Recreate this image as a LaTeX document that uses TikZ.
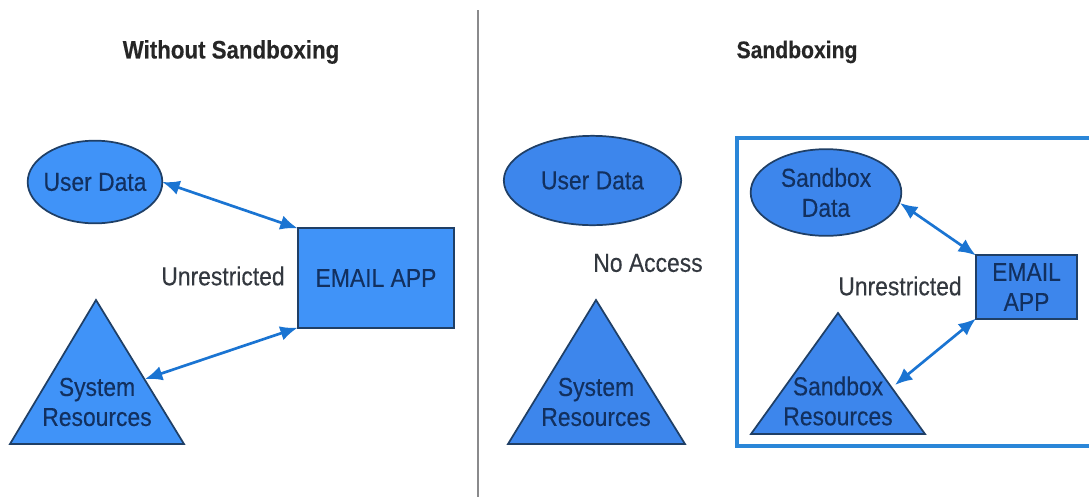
\documentclass[tikz,border=0pt]{standalone}
\usepackage{fontspec}
\setmainfont[FakeStretch=0.88,FakeBold=0.25]{Liberation Sans}
\usetikzlibrary{shapes.geometric,arrows.meta}
\definecolor{fillA}{HTML}{4093F8}
\definecolor{fillB}{HTML}{3D86EC}
\definecolor{edgeC}{HTML}{1F3F66}
\definecolor{inkC}{HTML}{12305F}
\definecolor{greyC}{HTML}{33383F}
\definecolor{linkC}{HTML}{1A74D2}
\definecolor{frameC}{HTML}{2A86D8}
\definecolor{ruleC}{HTML}{8A8A8C}
\tikzset{
  x=0.75pt,y=-0.75pt,
  txt/.style={inner sep=0pt,align=center,font=\fontsize{19.5}{22.5}\selectfont},
  inside/.style={txt,text=inkC},
  plain/.style={txt,text=greyC},
  heading/.style={inner sep=0pt,text=black!85,font=\fontsize{19}{21}\selectfont\bfseries},
  oval/.style={ellipse,draw=edgeC,line width=1.3pt,inner sep=-10pt,outer sep=0pt,text=inkC,align=center,font=\fontsize{19.5}{22.5}\selectfont},
  appbox/.style={rectangle,draw=edgeC,line width=1.3pt,inner sep=0pt,outer sep=0pt,text=inkC,align=center,font=\fontsize{19.5}{22.5}\selectfont},
  tri/.style={draw=edgeC,line width=1.3pt,line join=miter},
  link/.style={draw=linkC,line width=2pt,{Latex[length=13pt,width=11pt]}-{Latex[length=13pt,width=11pt]}}
}
\begin{document}
\begin{tikzpicture}
\useasboundingbox (0,0) rectangle (1089,497);
\fill[white] (0,0) rectangle (1089,497);
\clip (0,0) rectangle (1089,497);
% divider
\coordinate (ruleTop) at (478,10);
\coordinate (ruleEnd) at (478,497);
\draw[ruleC,line width=1.5pt] (ruleTop) -- (ruleEnd);
% titles
\node[heading] (t1) at (231,52) {Without Sandboxing};
\node[heading,font=\fontsize{18}{21}\selectfont\bfseries] (t2) at (797,52) {Sandboxing};
% left side
\node[oval,fill=fillA,minimum width=101pt,minimum height=62pt] (ud1) at (95,182) {User Data};
\node[appbox,fill=fillA,minimum width=117.5pt,minimum height=74.5pt] (app1) at (376,278) {EMAIL APP};
\draw[tri,fill=fillA] (96,300) -- (184,444) -- (10,444) -- cycle;
\coordinate (sr1) at (145,379);
\node[inside] (srt1) at (97,402) {System\\Resources};
\node[plain] (u1) at (223,276) {Unrestricted};
\draw[link] (ud1.east) -- (app1.north west);
\draw[link] (sr1) -- (app1.south west);
% middle
\node[oval,fill=fillB,minimum width=133pt,minimum height=67pt] (ud2) at (592.5,180.5) {User Data};
\draw[tri,fill=fillB] (596,300) -- (685,444) -- (508,444) -- cycle;
\node[inside] (srt2) at (596,402) {System\\Resources};
\node[plain] (na) at (648,263) {No Access};
% sandbox frame
\coordinate (fa) at (737,138);
\coordinate (fb) at (1100,446);
\draw[frameC,line width=2.6pt] (fa) rectangle (fb);
\node[oval,fill=fillB,minimum width=113pt,minimum height=65pt] (sd) at (826,192.5) {\raisebox{-1pt}{Sandbox}\\\raisebox{-1pt}{Data}};
\node[appbox,fill=fillB,minimum width=76pt,minimum height=47.5pt] (app2) at (1026.5,287) {EMAIL\\APP};
\draw[tri,fill=fillB] (838,313) -- (925,434) -- (751,434) -- cycle;
\coordinate (sr2) at (895,385);
\node[inside] (srt2b) at (838,401) {Sandbox\\Resources};
\node[plain] (u2) at (900,286) {Unrestricted};
\coordinate (sdp) at (900,203);
\draw[link] (sdp) -- (app2.north west);
\draw[link] (sr2) -- (app2.south west);
\end{tikzpicture}
\end{document}
